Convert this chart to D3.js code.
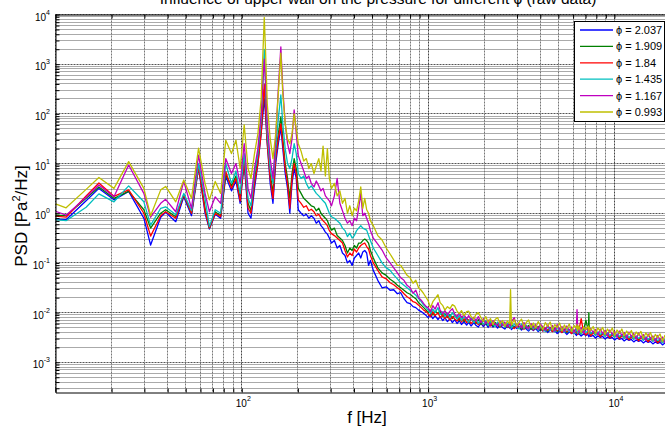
<!DOCTYPE html>
<html><head><meta charset="utf-8">
<script src="https://cdn.jsdelivr.net/npm/d3@7"></script>
<style>body{margin:0;background:#fff;}svg{display:block;font-family:"Liberation Sans",Arial,Helvetica,sans-serif;}</style>
</head><body><svg id="chart" width="665" height="427"></svg>
<script>
// ---- data (PSD values stored as log10 of Pa^2/Hz) ----
const freqHz = [
10,11.4,14.6,17.1,20.6,24.7,29.8,32.4,36.7,39,44.2,48.8,53.7,58.6,63.5,67,72,77,82,88,93,98,103,108,112,117,122,127,132,134,137,142,147,152,157,162,166,171,176,181,186,191,196,201,
208,215,222,229,236,244,251,259,266,273,281,288,295,
303,314,325,336,347,358,369,380,391,402,413,424,435,446,457,468,479,490,
508,537,566,596,625,654,684,713,742,771,801,830,859,889,918,947,977,
1000,1030,1060,1090,1130,1160,1200,1230,1270,1310,1350,1390,1430,1470,1510,1560,1610,1650,1700,1760,
1810,1860,1920,1980,2040,2100,2160,2230,2290,2360,2430,2510,2580,2660,2740,2770,2800,2900,2990,3080,
3170,3270,3360,3460,3570,3670,3780,3900,4010,4130,4260,4380,4520,4650,4790,4930,5080,5230,5390,5550,
5720,5890,6070,6250,6300,6350,6440,6630,6830,7030,7250,7290,7330,7460,7690,7920,8150,8400,8650,8910,
9180,9450,9740,10030,10330,10640,10960,11290,11630,11970,12330,12700,13080,13480,13880,14300,14730,15170,15620,16090,
16570,17070,17580,18110,18650,19210,19790,20000];

const phiLabels = ["\u03D5 = 2.037","\u03D5 = 1.909","\u03D5 = 1.84","\u03D5 = 1.435","\u03D5 = 1.167","\u03D5 = 0.993"];

const logPsd_2037 = [
-.12,-.13,.25,.50,.27,.44,-.1,-.64,-.08,.02,-.17,.33,-.05,.91,0,-.32,-.02,-.1,.74,.45,.65,.2,1.0,0,-.1,.5,1.0,1.6,2.3,2.0,1.4,.6,.2,1.0,1.4,1.72,1.3,.8,.5,0,.6,.9,.7,.07,
0,-.05,-.02,-.1,-.05,-.1,-.2,-.15,-.25,-.3,-.38,-.42,-.5,
-.6,-.55,-.7,-.65,-.8,-.85,-1.0,-.95,-1.05,-.9,-.85,-.8,-.9,-.78,-.75,-.8,-1.05,-.95,
-1.15,-1.35,-1.5,-1.48,-1.55,-1.54,-1.62,-1.6,-1.72,-1.8,-1.82,-1.88,-1.9,-1.95,-1.98,-2.02,-2.06,
-2.1,-2.04,-2.12,-2.06,-2.14,-2.08,-2.16,-2.1,-2.18,-2.12,-2.2,-2.14,-2.22,-2.16,-2.24,-2.18,-2.25,-2.19,-2.27,-2.2,
-2.26,-2.29,-2.21,-2.28,-2.22,-2.3,-2.23,-2.29,-2.24,-2.31,-2.25,-2.3,-2.33,-2.26,-2.31,-2.27,-2.34,-2.28,-2.32,-2.29,
-2.35,-2.3,-2.33,-2.37,-2.31,-2.36,-2.32,-2.38,-2.33,-2.37,-2.34,-2.4,-2.35,-2.38,-2.36,-2.42,-2.37,-2.4,-2.38,-2.44,
-2.39,-2.42,-2.4,-2.46,-2.41,-2.44,-2.42,-2.47,-2.43,-2.46,-2.44,-2.49,-2.45,-2.48,-2.46,-2.51,-2.47,-2.5,-2.48,-2.53,
-2.49,-2.52,-2.5,-2.55,-2.51,-2.54,-2.52,-2.57,-2.53,-2.56,-2.54,-2.59,-2.55,-2.58,-2.56,-2.61,-2.57,-2.6,-2.58,-2.63,
-2.59,-2.62,-2.6,-2.65,-2.61,-2.64,-2.62,-2.66];

const logPsd_1909 = [
-.04,-.05,.30,.53,.30,.44,.07,-.3,0,.07,-.07,.37,0,.97,.1,-.3,.03,-.05,.78,.55,.75,.3,1.1,.2,.05,.7,1.1,1.7,2.5,2.3,1.5,.8,.4,1.2,1.6,1.94,1.5,1.0,.7,.3,.8,1.1,.9,.5,
.4,.3,.25,.2,.15,.13,.05,.1,0,-.05,-.1,-.15,-.25,
-.34,-.3,-.45,-.5,-.55,-.65,-.8,-.7,-.75,-.65,-.7,-.6,-.6,-.55,-.52,-.55,-.6,-.75,
-.9,-1.1,-1.2,-1.25,-1.33,-1.38,-1.45,-1.5,-1.55,-1.6,-1.63,-1.68,-1.72,-1.8,-1.85,-1.9,-1.95,
-2.0,-1.95,-2.05,-1.97,-2.02,-1.96,-2.08,-2.02,-2.1,-2.04,-2.12,-2.05,-2.1,-2.16,-2.08,-2.18,-2.11,-2.2,-2.13,-2.17,
-2.22,-2.14,-2.24,-2.16,-2.21,-2.26,-2.17,-2.27,-2.2,-2.25,-2.29,-2.21,-2.27,-2.3,-2.22,-2.28,-2.23,-2.31,-2.24,-2.29,
-2.33,-2.25,-2.31,-2.26,-2.34,-2.27,-2.32,-2.28,-2.36,-2.29,-2.33,-2.37,-2.3,-2.35,-2.31,-2.38,-2.32,-2.36,-2.33,-2.4,
-2.34,-2.37,-2.35,-2.41,-2.36,-2.39,-2.37,-2.43,-2.36,-2.15,-2.38,-2.0,-2.39,-2.44,-2.38,-2.42,-2.4,-2.47,-2.41,-2.45,
-2.42,-2.49,-2.43,-2.47,-2.44,-2.51,-2.45,-2.49,-2.46,-2.53,-2.47,-2.51,-2.48,-2.55,-2.49,-2.53,-2.5,-2.57,-2.51,-2.55,
-2.53,-2.6,-2.54,-2.58,-2.55,-2.62,-2.57,-2.6];

const logPsd_184 = [
-.06,-.08,.35,.61,.34,.47,0,-.46,-.05,.03,-.1,.37,0,.94,.05,-.3,0,-.07,.84,.5,.7,.25,1.05,.1,0,.6,1.0,1.6,2.6,2.1,1.4,.7,.3,1.1,1.5,1.8,1.4,.9,.6,.1,.7,1.0,.8,.27,
.2,.12,.15,.05,.08,.03,-.05,-.02,-.1,-.15,-.2,-.25,-.35,
-.41,-.45,-.5,-.55,-.6,-.75,-.88,-.8,-.85,-.72,-.78,-.7,-.65,-.62,-.6,-.67,-.72,-.85,
-1.0,-1.15,-1.28,-1.32,-1.4,-1.44,-1.5,-1.55,-1.62,-1.68,-1.72,-1.78,-1.8,-1.85,-1.9,-1.95,-1.98,
-2.02,-2.08,-1.98,-2.06,-2.0,-2.1,-2.04,-2.12,-2.06,-2.15,-2.08,-2.13,-2.17,-2.1,-2.19,-2.12,-2.2,-2.14,-2.22,-2.15,
-2.2,-2.24,-2.16,-2.25,-2.18,-2.23,-2.27,-2.19,-2.26,-2.21,-2.29,-2.22,-2.27,-2.23,-2.3,-2.24,-2.28,-2.32,-2.25,-2.31,
-2.26,-2.34,-2.27,-2.32,-2.28,-2.35,-2.29,-2.33,-2.3,-2.37,-2.31,-2.35,-2.32,-2.38,-2.33,-2.36,-2.34,-2.4,-2.35,-2.38,
-2.36,-2.42,-2.37,-2.4,-2.38,-2.44,-2.37,-2.12,-2.4,-2.45,-2.39,-2.43,-2.4,-2.47,-2.41,-2.45,-2.42,-2.49,-2.43,-2.47,
-2.44,-2.51,-2.45,-2.49,-2.46,-2.53,-2.47,-2.51,-2.48,-2.55,-2.49,-2.53,-2.5,-2.57,-2.51,-2.55,-2.52,-2.59,-2.53,-2.57,
-2.55,-2.61,-2.56,-2.6,-2.57,-2.63,-2.58,-2.64];

const logPsd_1435 = [
-.13,-.15,.12,.39,.23,.55,.23,-.24,.1,.13,-.03,.4,.05,1.0,.3,-.27,.07,0,1.0,.6,.85,.4,1.2,.3,.15,.8,1.2,1.9,3.3,2.6,1.6,.9,.6,1.3,1.9,2.38,1.8,1.3,1.0,.9,1.1,1.4,1.2,.8,
.7,.75,.6,.5,.55,.47,.4,.35,.3,.25,.2,.1,0,
-.07,-.1,-.15,-.2,-.3,-.35,-.47,-.4,-.5,-.45,-.35,-.3,-.25,-.3,-.32,-.34,-.45,-.55,
-.7,-.85,-1.0,-1.1,-1.15,-1.24,-1.32,-1.4,-1.45,-1.5,-1.55,-1.6,-1.65,-1.72,-1.78,-1.85,-1.9,
-1.95,-2.02,-1.93,-2.0,-1.9,-2.04,-1.98,-2.08,-2.01,-2.1,-2.0,-2.06,-2.13,-2.05,-2.16,-2.08,-2.14,-2.19,-2.1,-2.2,
-2.13,-2.22,-2.15,-2.24,-2.16,-2.26,-2.18,-2.23,-2.28,-2.19,-2.27,-2.2,-2.3,-2.21,-2.28,-2.22,-2.31,-2.23,-2.29,-2.33,
-2.23,-2.32,-2.25,-2.35,-2.26,-2.33,-2.27,-2.36,-2.28,-2.34,-2.38,-2.28,-2.36,-2.3,-2.39,-2.29,-2.37,-2.31,-2.4,-2.32,
-2.38,-2.33,-2.42,-2.34,-2.36,-2.41,-2.33,-2.43,-2.35,-2.4,-2.36,-2.44,-2.37,-2.42,-2.38,-2.46,-2.39,-2.44,-2.4,-2.48,
-2.41,-2.46,-2.42,-2.5,-2.43,-2.48,-2.44,-2.52,-2.45,-2.5,-2.46,-2.54,-2.47,-2.52,-2.48,-2.56,-2.49,-2.54,-2.5,-2.58,
-2.52,-2.56,-2.53,-2.61,-2.55,-2.59,-2.56,-2.63];

const logPsd_1167 = [
.04,-.04,.32,.57,.33,.97,.4,-.08,.2,.28,.03,.64,.1,1.17,.4,.03,.33,.2,1.1,.8,1.0,.6,1.4,.5,.3,.9,1.3,2.0,3.1,2.7,1.8,1.1,.7,1.5,2.5,3.35,2.5,1.8,1.4,1.2,1.5,2.08,1.6,1.16,
1.0,.85,.7,.75,.6,.53,.65,.55,.45,.5,.35,.3,.25,
.15,.35,.7,.2,.05,-.1,-.2,-.15,-.25,-.1,-.15,.1,.4,-.05,0,-.1,-.2,-.35,
-.5,-.62,-.74,-.9,-1.0,-1.1,-1.2,-1.3,-1.35,-1.45,-1.5,-1.61,-1.55,-1.7,-1.75,-1.82,-1.88,
-1.9,-1.98,-1.86,-1.93,-1.8,-1.95,-2.02,-1.96,-2.05,-1.97,-1.92,-2.03,-2.08,-2.0,-2.1,-2.04,-2.13,-2.06,-2.15,-2.09,
-2.17,-2.08,-2.2,-2.12,-2.22,-2.15,-2.25,-2.16,-2.23,-2.27,-2.17,-2.26,-2.19,-2.29,-2.2,-2.26,-2.18,-2.1,-2.3,-2.22,
-2.31,-2.2,-2.28,-2.33,-2.22,-2.3,-2.24,-2.34,-2.23,-2.29,-2.36,-2.25,-2.33,-2.26,-2.37,-2.24,-2.35,-2.28,-2.38,-2.27,
-2.36,-2.29,-2.4,-2.3,-1.94,-2.31,-2.39,-2.3,-2.42,-2.31,-2.37,-2.33,-2.43,-2.32,-2.4,-2.34,-2.45,-2.33,-2.42,-2.36,
-2.47,-2.35,-2.44,-2.38,-2.49,-2.37,-2.46,-2.4,-2.51,-2.39,-2.48,-2.42,-2.53,-2.41,-2.5,-2.44,-2.56,-2.43,-2.52,-2.47,
-2.58,-2.46,-2.55,-2.49,-2.6,-2.5,-2.57,-2.54];

const logPsd_0993 = [
.19,.11,.48,.72,.50,1.04,.5,-.05,.47,.54,.23,.67,.3,1.31,.6,.27,.64,.4,1.47,1.2,1.47,.9,1.78,.9,.7,1.2,1.6,2.3,3.94,3.3,2.2,1.5,1.1,1.6,2.4,3.22,2.4,1.8,1.5,1.4,1.6,2.0,1.7,1.4,
1.25,1.05,1.1,.9,1.0,.8,.95,1.1,.85,1.35,.75,1.3,.7,
.5,.6,.35,.45,.2,.3,0,.15,-.05,.1,.05,.25,.53,.1,.3,.07,0,-.15,
-.25,-.45,-.54,-.7,-.82,-.94,-1.05,-1.05,-1.15,-1.25,-1.3,-1.41,-1.35,-1.5,-1.55,-1.62,-1.7,
-1.76,-1.9,-1.78,-1.72,-1.64,-1.8,-1.86,-1.95,-1.88,-1.92,-1.84,-1.87,-1.97,-2.02,-1.96,-2.06,-1.98,-1.97,-2.08,-2.13,
-2.03,-2.0,-2.1,-2.18,-2.08,-2.2,-2.12,-2.24,-2.14,-2.1,-2.22,-2.16,-2.28,-2.17,-2.22,-1.54,-2.25,-2.14,-2.27,-2.19,
-2.13,-2.29,-2.2,-2.15,-2.3,-2.21,-2.31,-2.18,-2.26,-2.34,-2.2,-2.28,-2.19,-2.35,-2.24,-2.3,-2.21,-2.37,-2.25,-2.33,
-2.23,-2.38,-2.26,-2.31,-2.24,-2.36,-2.27,-2.4,-2.29,-2.34,-2.27,-2.41,-2.3,-2.36,-2.28,-2.42,-2.31,-2.37,-2.3,-2.44,
-2.33,-2.4,-2.31,-2.46,-2.35,-2.42,-2.33,-2.47,-2.37,-2.44,-2.36,-2.5,-2.39,-2.45,-2.38,-2.52,-2.41,-2.48,-2.4,-2.55,
-2.44,-2.5,-2.43,-2.58,-2.46,-2.53,-2.47,-2.6];

const seriesData = [logPsd_2037, logPsd_1909, logPsd_184, logPsd_1435, logPsd_1167, logPsd_0993];
const xLabelExponents = [2, 3, 4];
const yLabelExponents = [-3, -2, -1, 0, 1, 2, 3, 4];
const titleText = "Influence of upper wall on the pressure for different \u03D5 (raw data)";

// ---- styles ----
const lineColors = ["#0000ff", "#008000", "#ff0000", "#00bfbf", "#bf00bf", "#bfbf00"];

// ---- drawing ----
const svg = d3.select("#chart");
const L = 55.5, R = 670.5, T = 14.5, B = 392.5;
const x = d3.scaleLog().domain([10, 20000]).range([L, R]);
const y = d3.scaleLog().domain([Math.pow(10, -3.608), 1e4]).range([B, T]);

svg.append("defs").append("clipPath").attr("id", "clip")
  .append("rect").attr("x", L).attr("y", T).attr("width", R - L).attr("height", B - T);

const xt = x.ticks();
const yt = y.ticks();
const isDecade = v => Math.abs(Math.log10(v) - Math.round(Math.log10(v))) < 1e-9;
const snap = v => Math.round(v - 0.5) + 0.5;

const grid = svg.append("g");
grid.selectAll("line.hy").data(yt).join("line")
  .attr("x1", L).attr("x2", R).attr("y1", d => snap(y(d))).attr("y2", d => snap(y(d)))
  .attr("stroke", d => isDecade(d) ? "#555" : "#aaa").attr("stroke-width", 1)
  .attr("stroke-dasharray", d => isDecade(d) ? "2,1" : null);
grid.selectAll("line.vx").data(xt).join("line")
  .attr("y1", T).attr("y2", B).attr("x1", d => snap(x(d))).attr("x2", d => snap(x(d)))
  .attr("stroke", d => isDecade(d) ? "#444" : "#777").attr("stroke-width", 1)
  .attr("stroke-dasharray", "2,1");

// series
const line = d3.line().x(d => x(d[0])).y(d => y(d[1]));
const plot = svg.append("g").attr("clip-path", "url(#clip)");
seriesData.forEach((arr, i) => {
  const pts = freqHz.map((f, k) => [f, Math.pow(10, arr[k])]);
  plot.append("path").datum(pts).attr("d", line)
    .attr("fill", "none").attr("stroke", lineColors[i]).attr("stroke-width", 1.3)
    .attr("stroke-linejoin", "round");
});

// axes (ticks inward)
const axB = svg.append("g").attr("transform", `translate(0,${B})`)
  .call(d3.axisBottom(x).tickValues(xt).tickSize(-4).tickSizeOuter(0).tickFormat(""));
const axT = svg.append("g").attr("transform", `translate(0,${T})`)
  .call(d3.axisTop(x).tickValues(xt).tickSize(-4).tickSizeOuter(0).tickFormat(""));
const axL = svg.append("g").attr("transform", `translate(${L},0)`)
  .call(d3.axisLeft(y).tickValues(yt).tickSize(-4).tickSizeOuter(0).tickFormat(""));
[axB, axT, axL].forEach(g => {
  g.selectAll("path.domain").attr("stroke", "#000").attr("stroke-width", 1);
  g.selectAll(".tick line").attr("stroke", "#000");
});

// tick labels
const xl = svg.append("g").attr("font-size", 10).attr("fill", "#000");
xLabelExponents.forEach(e => {
  const t = xl.append("text").attr("x", x(Math.pow(10, e)) - 6).attr("y", 407);
  t.append("tspan").text("10");
  t.append("tspan").attr("dy", -6).attr("font-size", 7).text(e);
});
const yl = svg.append("g").attr("font-size", 10).attr("fill", "#000");
yLabelExponents.forEach(e => {
  const t = yl.append("text").attr("x", 50).attr("y", y(Math.pow(10, e)) + 6).attr("text-anchor", "end");
  t.append("tspan").text("10");
  t.append("tspan").attr("dy", -6).attr("font-size", 7).text(e);
});

// axis titles
svg.append("text").attr("x", 367).attr("y", 423).attr("text-anchor", "middle")
  .attr("font-size", 17).text("f [Hz]");
const yt2 = svg.append("text").attr("transform", "translate(27,216) rotate(-90)")
  .attr("text-anchor", "middle").attr("font-size", 17);
yt2.append("tspan").text("PSD [Pa");
yt2.append("tspan").attr("dy", -7).attr("font-size", 11).text("2");
yt2.append("tspan").attr("dy", 7).text("/Hz]");

// title (cut off by the top edge, as in the source figure)
svg.append("text").attr("x", 378).attr("y", 4).attr("text-anchor", "middle")
  .attr("font-size", 15.5).text(titleText);

// legend
const lg = svg.append("g");
lg.append("rect").attr("x", 574.5).attr("y", 21.5).attr("width", 90).attr("height", 100)
  .attr("fill", "#fff").attr("stroke", "#000").attr("stroke-width", 1);
phiLabels.forEach((lab, i) => {
  const yy = 30 + i * 16.4;
  lg.append("line").attr("x1", 580).attr("x2", 613).attr("y1", yy).attr("y2", yy)
    .attr("stroke", lineColors[i]).attr("stroke-width", 1.3);
  lg.append("text").attr("x", 616).attr("y", yy + 4).attr("font-size", 11).text(lab);
});
</script></body></html>
